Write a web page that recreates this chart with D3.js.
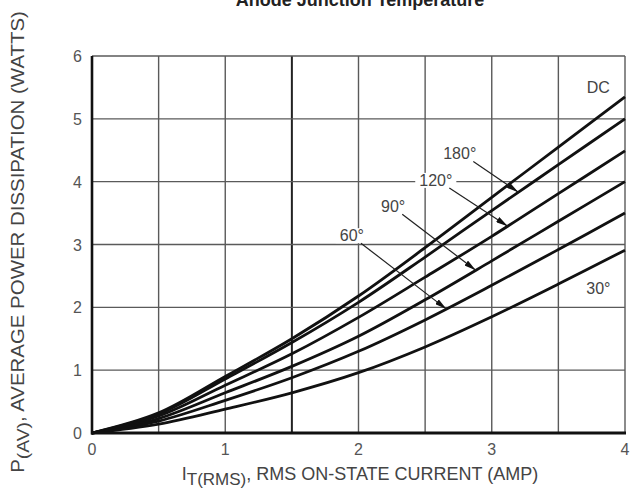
<!DOCTYPE html>
<html><head><meta charset="utf-8">
<script src="https://cdn.jsdelivr.net/npm/d3@7"></script>
<style>
html,body{margin:0;padding:0;background:#fff;}
svg{display:block;font-family:"Liberation Sans",Arial,sans-serif;}
</style></head>
<body><svg id="c" width="642" height="495"></svg>
<script>
const xGrid = [0, 0.5, 1, 1.5, 2, 2.5, 3, 3.5, 4];
const xTicks = [0, 1, 2, 3, 4];
const yTicks = [0, 1, 2, 3, 4, 5, 6];
const seriesNames = ["DC", "180°", "120°", "90°", "60°", "30°"];
const valDC   = [0, 0.32, 0.90, 1.50, 2.18, 2.95, 3.75, 4.55, 5.35];
const val180  = [0, 0.30, 0.86, 1.44, 2.08, 2.80, 3.54, 4.27, 5.00];
const val120  = [0, 0.27, 0.76, 1.26, 1.84, 2.48, 3.13, 3.81, 4.49];
const val90   = [0, 0.23, 0.64, 1.06, 1.54, 2.12, 2.74, 3.37, 4.00];
const val60   = [0, 0.19, 0.52, 0.88, 1.30, 1.80, 2.35, 2.92, 3.50];
const val30   = [0, 0.14, 0.38, 0.64, 0.96, 1.37, 1.85, 2.37, 2.91];
const allVals = [valDC, val180, val120, val90, val60, val30];
const labelX = [3.8, 2.76, 2.58, 2.26, 1.95, 3.8];
const labelY = [5.48, 4.42, 4.0, 3.58, 3.12, 2.28];
const arrowTipX = [null, 3.2, 3.12, 2.88, 2.66, null];
const titleText = "Anode Junction Temperature";

const svg = d3.select("#c");
const x = d3.scaleLinear().domain([0, 4]).range([92, 625]);
const y = d3.scaleLinear().domain([0, 6]).range([433, 56]);

// grid
const g = svg.append("g");
g.selectAll("line.v").data(xGrid.slice(1)).enter().append("line")
  .attr("x1", d => x(d)).attr("x2", d => x(d)).attr("y1", y(0)).attr("y2", y(6))
  .attr("stroke", d => d === 1.5 ? "#222" : "#5a5a5a").attr("stroke-width", d => d === 1.5 ? 2 : 1.4);
g.selectAll("line.h").data(yTicks.slice(1)).enter().append("line")
  .attr("x1", x(0)).attr("x2", x(4)).attr("y1", d => y(d)).attr("y2", d => y(d))
  .attr("stroke", "#5a5a5a").attr("stroke-width", 1.4);

// curves
const line = d3.line().x((d, i) => x(xGrid[i])).y(d => y(d)).curve(d3.curveCatmullRom.alpha(0.5));
const paths = svg.append("g").selectAll("path").data(allVals).enter().append("path")
  .attr("d", line).attr("fill", "none").attr("stroke", "#111").attr("stroke-width", 2.8);

function pointAtX(pathNode, px) {
  const L = pathNode.getTotalLength();
  let lo = 0, hi = L;
  for (let k = 0; k < 40; k++) {
    const mid = (lo + hi) / 2;
    if (pathNode.getPointAtLength(mid).x < px) lo = mid; else hi = mid;
  }
  return pathNode.getPointAtLength((lo + hi) / 2);
}

const defs = svg.append("defs");
defs.append("marker").attr("id", "ah").attr("viewBox", "0 0 12 6").attr("refX", 12).attr("refY", 3)
  .attr("markerWidth", 12).attr("markerHeight", 6).attr("markerUnits", "userSpaceOnUse").attr("orient", "auto")
  .append("path").attr("d", "M0,0 L12,3 L0,6 Z").attr("fill", "#111");

const labG = svg.append("g");
seriesNames.forEach((name, i) => {
  const lx = x(labelX[i]), ly = y(labelY[i]);
  const t = labG.append("text").attr("x", lx).attr("y", ly).attr("text-anchor", "middle")
    .attr("dominant-baseline", "middle").attr("font-size", 16).attr("fill", "#444").text(name);
  const bb = t.node().getBBox();
  if (arrowTipX[i] !== null) {
    labG.insert("rect", "text").attr("x", bb.x - 4).attr("y", bb.y + 1).attr("width", bb.width + 8)
      .attr("height", bb.height - 2).attr("fill", "#fff");
    const tip = pointAtX(paths.nodes()[i], x(arrowTipX[i]));
    const sx = bb.x + bb.width - 3, sy = bb.y + bb.height - 1;
    labG.append("line").attr("x1", sx).attr("y1", sy).attr("x2", tip.x).attr("y2", tip.y)
      .attr("stroke", "#222").attr("stroke-width", 1.2).attr("marker-end", "url(#ah)");
  }
});

// axes frame
svg.append("line").attr("x1", x(0)).attr("x2", x(0)).attr("y1", y(0) + 1.5).attr("y2", y(6))
  .attr("stroke", "#111").attr("stroke-width", 2.6);
svg.append("line").attr("x1", x(0) - 1).attr("x2", x(4) + 1).attr("y1", y(0)).attr("y2", y(0))
  .attr("stroke", "#111").attr("stroke-width", 3.2);

// tick labels
svg.append("g").selectAll("text").data(xTicks).enter().append("text")
  .attr("x", d => x(d)).attr("y", 455).attr("text-anchor", "middle").attr("font-size", 16)
  .attr("fill", "#555").text(d => d);
svg.append("g").selectAll("text").data(yTicks).enter().append("text")
  .attr("x", 82).attr("y", d => y(d) + 6).attr("text-anchor", "end").attr("font-size", 16)
  .attr("fill", "#555").text(d => d);

// x title
const xt = svg.append("text").attr("x", 360).attr("y", 480).attr("text-anchor", "middle")
  .attr("font-size", 18).attr("fill", "#444");
xt.append("tspan").text("I");
xt.append("tspan").attr("dy", 5).attr("font-size", 17).text("T(RMS)");
xt.append("tspan").attr("dy", -5).text(", RMS ON-STATE CURRENT (AMP)");

// y title
const yt = svg.append("text").attr("transform", "translate(24,242) rotate(-90)").attr("text-anchor", "middle")
  .attr("font-size", 18).attr("fill", "#444");
yt.append("tspan").text("P");
yt.append("tspan").attr("dy", 5).attr("font-size", 17).text("(AV)");
yt.append("tspan").attr("dy", -5).text(", AVERAGE POWER DISSIPATION (WATTS)");
const yb = yt.node().getBBox();
const targetLen = 462;
yt.attr("transform", `translate(24,242) rotate(-90) scale(${targetLen / yb.width},1)`);

// top title (cropped by the page edge)
svg.append("text").attr("x", 360).attr("y", 6).attr("text-anchor", "middle").attr("font-size", 18)
  .attr("font-weight", "bold").attr("fill", "#222").text(titleText);
</script></body></html>
